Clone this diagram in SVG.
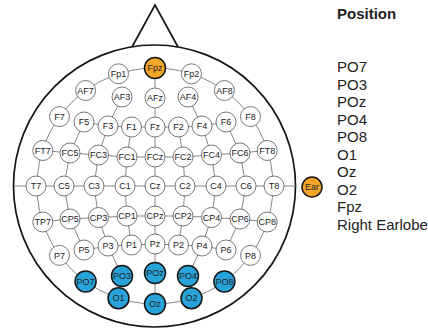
<svg xmlns="http://www.w3.org/2000/svg" width="428" height="331" viewBox="0 0 428 331">
<style>
.head{fill:none;stroke:#151515;stroke-width:1.7}
.conn{fill:none;stroke:#6a6a6a;stroke-width:0.8}
.n circle{fill:#fff;stroke:#555;stroke-width:0.8}
.b circle{fill:#27a3da;stroke:#151515;stroke-width:1.5}
.o circle{fill:#f4a628;stroke:#151515;stroke-width:1.5}
text.l{font-family:"Liberation Sans",Arial,sans-serif;font-size:9px;fill:#222;text-anchor:middle}
text.r{font-family:"Liberation Sans",Arial,sans-serif;font-size:15px;fill:#222}
</style>
<rect width="428" height="331" fill="#fff"/>
<g id="head">
<circle class="head" cx="154.5" cy="186" r="141"/>
<polyline class="head" points="132,47 155,5 178,47"/>
</g>
<g id="connectors">
<circle class="conn" cx="155" cy="186" r="118"/>
<line class="conn" x1="155" y1="68" x2="155" y2="304"/>
<line class="conn" x1="14" y1="186" x2="296" y2="186"/>
<line class="conn" x1="122" y1="97" x2="108" y2="126"/>
<line class="conn" x1="188" y1="97" x2="202" y2="126"/>
<polyline class="conn" points="84,122 108,126 131.5,127 155,127 178.5,127 202,126 226,122"/>
<line class="conn" x1="84" y1="122" x2="70" y2="153"/>
<line class="conn" x1="108" y1="126" x2="98.5" y2="155"/>
<line class="conn" x1="131.5" y1="127" x2="127" y2="157"/>
<line class="conn" x1="178.5" y1="127" x2="183" y2="157"/>
<line class="conn" x1="202" y1="126" x2="211.5" y2="155"/>
<line class="conn" x1="226" y1="122" x2="240" y2="153"/>
<polyline class="conn" points="42.8,150.5 70,153 98.5,155 127,157 155,157 183,157 211.5,155 240,153 267.2,150.5"/>
<line class="conn" x1="70" y1="153" x2="64" y2="186"/>
<line class="conn" x1="98.5" y1="155" x2="94" y2="186"/>
<line class="conn" x1="127" y1="157" x2="125" y2="186"/>
<line class="conn" x1="183" y1="157" x2="185" y2="186"/>
<line class="conn" x1="211.5" y1="155" x2="216" y2="186"/>
<line class="conn" x1="240" y1="153" x2="246" y2="186"/>
<line class="conn" x1="64" y1="186" x2="70" y2="219"/>
<line class="conn" x1="94" y1="186" x2="98.5" y2="217.5"/>
<line class="conn" x1="125" y1="186" x2="127" y2="216"/>
<line class="conn" x1="185" y1="186" x2="183" y2="216"/>
<line class="conn" x1="216" y1="186" x2="211.5" y2="217.5"/>
<line class="conn" x1="246" y1="186" x2="240" y2="219"/>
<polyline class="conn" points="42.8,222 70,219 98.5,217.5 127,216 155,216 183,216 211.5,217.5 240,219 267.2,222"/>
<line class="conn" x1="70" y1="219" x2="84" y2="250"/>
<line class="conn" x1="98.5" y1="217.5" x2="108" y2="246"/>
<line class="conn" x1="127" y1="216" x2="131.5" y2="245"/>
<line class="conn" x1="183" y1="216" x2="178.5" y2="245"/>
<line class="conn" x1="211.5" y1="217.5" x2="202" y2="246"/>
<line class="conn" x1="240" y1="219" x2="226" y2="250"/>
<polyline class="conn" points="84,250 108,246 131.5,245 155,244 178.5,245 202,246 226,250"/>
<line class="conn" x1="108" y1="246" x2="122" y2="276"/>
<line class="conn" x1="202" y1="246" x2="188" y2="276"/>
</g>
<g id="Fpz" class="o"><circle cx="155" cy="68" r="10.5"/><text class="l" x="155" y="71.2">Fpz</text></g>
<g id="Fp1" class="n"><circle cx="118.5" cy="73.8" r="10"/><text class="l" x="118.5" y="77">Fp1</text></g>
<g id="Fp2" class="n"><circle cx="191.5" cy="73.8" r="10"/><text class="l" x="191.5" y="77">Fp2</text></g>
<g id="AF7" class="n"><circle cx="85.6" cy="90.5" r="10"/><text class="l" x="85.6" y="93.7">AF7</text></g>
<g id="AF3" class="n"><circle cx="122" cy="97" r="10"/><text class="l" x="122" y="100.2">AF3</text></g>
<g id="AFz" class="n"><circle cx="155" cy="98" r="10"/><text class="l" x="155" y="101.2">AFz</text></g>
<g id="AF4" class="n"><circle cx="188" cy="97" r="10"/><text class="l" x="188" y="100.2">AF4</text></g>
<g id="AF8" class="n"><circle cx="224.4" cy="90.5" r="10"/><text class="l" x="224.4" y="93.7">AF8</text></g>
<g id="F7" class="n"><circle cx="59.5" cy="116.6" r="10"/><text class="l" x="59.5" y="119.8">F7</text></g>
<g id="F5" class="n"><circle cx="84" cy="122" r="10"/><text class="l" x="84" y="125.2">F5</text></g>
<g id="F3" class="n"><circle cx="108" cy="126" r="10"/><text class="l" x="108" y="129.2">F3</text></g>
<g id="F1" class="n"><circle cx="131.5" cy="127" r="10"/><text class="l" x="131.5" y="130.2">F1</text></g>
<g id="Fz" class="n"><circle cx="155" cy="127" r="10"/><text class="l" x="155" y="130.2">Fz</text></g>
<g id="F2" class="n"><circle cx="178.5" cy="127" r="10"/><text class="l" x="178.5" y="130.2">F2</text></g>
<g id="F4" class="n"><circle cx="202" cy="126" r="10"/><text class="l" x="202" y="129.2">F4</text></g>
<g id="F6" class="n"><circle cx="226" cy="122" r="10"/><text class="l" x="226" y="125.2">F6</text></g>
<g id="F8" class="n"><circle cx="250.5" cy="116.6" r="10"/><text class="l" x="250.5" y="119.8">F8</text></g>
<g id="FT7" class="n"><circle cx="42.8" cy="150.5" r="10"/><text class="l" x="42.8" y="153.7">FT7</text></g>
<g id="FC5" class="n"><circle cx="70" cy="153" r="10"/><text class="l" x="70" y="156.2">FC5</text></g>
<g id="FC3" class="n"><circle cx="98.5" cy="155" r="10"/><text class="l" x="98.5" y="158.2">FC3</text></g>
<g id="FC1" class="n"><circle cx="127" cy="157" r="10"/><text class="l" x="127" y="160.2">FC1</text></g>
<g id="FCz" class="n"><circle cx="155" cy="157" r="10"/><text class="l" x="155" y="160.2">FCz</text></g>
<g id="FC2" class="n"><circle cx="183" cy="157" r="10"/><text class="l" x="183" y="160.2">FC2</text></g>
<g id="FC4" class="n"><circle cx="211.5" cy="155" r="10"/><text class="l" x="211.5" y="158.2">FC4</text></g>
<g id="FC6" class="n"><circle cx="240" cy="153" r="10"/><text class="l" x="240" y="156.2">FC6</text></g>
<g id="FT8" class="n"><circle cx="267.2" cy="150.5" r="10"/><text class="l" x="267.2" y="153.7">FT8</text></g>
<g id="T7" class="n"><circle cx="36" cy="186" r="10"/><text class="l" x="36" y="189.2">T7</text></g>
<g id="C5" class="n"><circle cx="64" cy="186" r="10"/><text class="l" x="64" y="189.2">C5</text></g>
<g id="C3" class="n"><circle cx="94" cy="186" r="10"/><text class="l" x="94" y="189.2">C3</text></g>
<g id="C1" class="n"><circle cx="125" cy="186" r="10"/><text class="l" x="125" y="189.2">C1</text></g>
<g id="Cz" class="n"><circle cx="155" cy="186" r="10"/><text class="l" x="155" y="189.2">Cz</text></g>
<g id="C2" class="n"><circle cx="185" cy="186" r="10"/><text class="l" x="185" y="189.2">C2</text></g>
<g id="C4" class="n"><circle cx="216" cy="186" r="10"/><text class="l" x="216" y="189.2">C4</text></g>
<g id="C6" class="n"><circle cx="246" cy="186" r="10"/><text class="l" x="246" y="189.2">C6</text></g>
<g id="T8" class="n"><circle cx="274" cy="186" r="10"/><text class="l" x="274" y="189.2">T8</text></g>
<g id="TP7" class="n"><circle cx="42.8" cy="222" r="10"/><text class="l" x="42.8" y="225.2">TP7</text></g>
<g id="CP5" class="n"><circle cx="70" cy="219" r="10"/><text class="l" x="70" y="222.2">CP5</text></g>
<g id="CP3" class="n"><circle cx="98.5" cy="217.5" r="10"/><text class="l" x="98.5" y="220.7">CP3</text></g>
<g id="CP1" class="n"><circle cx="127" cy="216" r="10"/><text class="l" x="127" y="219.2">CP1</text></g>
<g id="CPz" class="n"><circle cx="155" cy="216" r="10"/><text class="l" x="155" y="219.2">CPz</text></g>
<g id="CP2" class="n"><circle cx="183" cy="216" r="10"/><text class="l" x="183" y="219.2">CP2</text></g>
<g id="CP4" class="n"><circle cx="211.5" cy="217.5" r="10"/><text class="l" x="211.5" y="220.7">CP4</text></g>
<g id="CP6" class="n"><circle cx="240" cy="219" r="10"/><text class="l" x="240" y="222.2">CP6</text></g>
<g id="CP8" class="n"><circle cx="267.2" cy="222" r="10"/><text class="l" x="267.2" y="225.2">CP8</text></g>
<g id="P7" class="n"><circle cx="59.5" cy="255.4" r="10"/><text class="l" x="59.5" y="258.6">P7</text></g>
<g id="P5" class="n"><circle cx="84" cy="250" r="10"/><text class="l" x="84" y="253.2">P5</text></g>
<g id="P3" class="n"><circle cx="108" cy="246" r="10"/><text class="l" x="108" y="249.2">P3</text></g>
<g id="P1" class="n"><circle cx="131.5" cy="245" r="10"/><text class="l" x="131.5" y="248.2">P1</text></g>
<g id="Pz" class="n"><circle cx="155" cy="244" r="10"/><text class="l" x="155" y="247.2">Pz</text></g>
<g id="P2" class="n"><circle cx="178.5" cy="245" r="10"/><text class="l" x="178.5" y="248.2">P2</text></g>
<g id="P4" class="n"><circle cx="202" cy="246" r="10"/><text class="l" x="202" y="249.2">P4</text></g>
<g id="P6" class="n"><circle cx="226" cy="250" r="10"/><text class="l" x="226" y="253.2">P6</text></g>
<g id="P8" class="n"><circle cx="250.5" cy="255.4" r="10"/><text class="l" x="250.5" y="258.6">P8</text></g>
<g id="PO7" class="b"><circle cx="85.6" cy="281.5" r="10.5"/><text class="l" x="85.6" y="284.7">PO7</text></g>
<g id="PO3" class="b"><circle cx="122" cy="276" r="10.5"/><text class="l" x="122" y="279.2">PO3</text></g>
<g id="POz" class="b"><circle cx="155" cy="273" r="10.5"/><text class="l" x="155" y="276.2">POz</text></g>
<g id="PO4" class="b"><circle cx="188" cy="276" r="10.5"/><text class="l" x="188" y="279.2">PO4</text></g>
<g id="PO8" class="b"><circle cx="224.4" cy="281.5" r="10.5"/><text class="l" x="224.4" y="284.7">PO8</text></g>
<g id="O1" class="b"><circle cx="118.5" cy="298.2" r="10.5"/><text class="l" x="118.5" y="301.4">O1</text></g>
<g id="Oz" class="b"><circle cx="155" cy="304" r="10.5"/><text class="l" x="155" y="307.2">Oz</text></g>
<g id="O2" class="b"><circle cx="191.5" cy="298.2" r="10.5"/><text class="l" x="191.5" y="301.4">O2</text></g>
<g id="Ear" class="o"><circle cx="312" cy="187" r="10"/><text class="l" x="312" y="190.2">Ear</text></g>
<g id="legend">
<text class="r" x="337" y="18.5" font-weight="bold">Position</text>
<text class="r" x="337" y="72">PO7</text>
<text class="r" x="337" y="89.5">PO3</text>
<text class="r" x="337" y="107">POz</text>
<text class="r" x="337" y="124.5">PO4</text>
<text class="r" x="337" y="142">PO8</text>
<text class="r" x="337" y="159.5">O1</text>
<text class="r" x="337" y="177">Oz</text>
<text class="r" x="337" y="194.5">O2</text>
<text class="r" x="337" y="212">Fpz</text>
<text class="r" x="337" y="229.5">Right Earlobe</text>
</g>
</svg>
